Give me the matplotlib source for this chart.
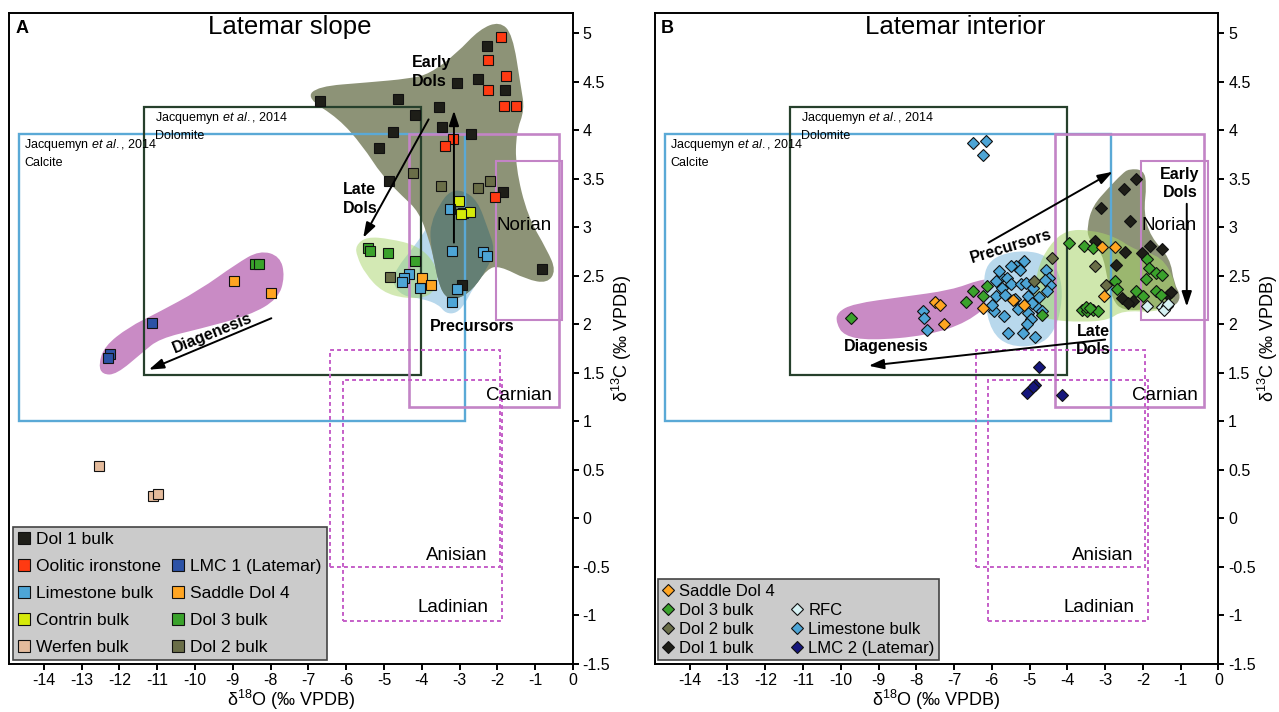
import numpy as np
import matplotlib
matplotlib.use("Agg")
import matplotlib.pyplot as plt
from matplotlib.path import Path
from matplotlib.patches import PathPatch, Rectangle
from matplotlib.lines import Line2D

plt.rcParams['font.family'] = ['Liberation Sans', 'DejaVu Sans']
plt.rcParams['mathtext.fontset'] = 'custom'
plt.rcParams['mathtext.rm'] = 'Liberation Sans'
plt.rcParams['mathtext.it'] = 'Liberation Sans:italic'
plt.rcParams['mathtext.bf'] = 'Liberation Sans:bold'
plt.rcParams['mathtext.default'] = 'regular'
plt.rcParams['axes.unicode_minus'] = False

# ---------------- data: panel A (Latemar slope) ----------------
slope_dol1 = [(-6.70, 4.30), (-4.62, 4.32), (-4.18, 4.16), (-4.75, 3.98), (-5.13, 3.81),
              (-4.88, 3.47), (-2.27, 4.87), (-3.07, 4.49), (-2.52, 4.53), (-1.80, 4.41),
              (-3.55, 4.24), (-3.47, 4.03), (-2.70, 3.96), (-1.86, 3.36), (-0.81, 2.57),
              (-2.93, 2.40)]
slope_ooid = [(-1.90, 4.96), (-2.25, 4.72), (-1.77, 4.56), (-2.24, 4.41), (-1.82, 4.25),
              (-1.52, 4.25), (-3.18, 3.91), (-3.38, 3.84), (-2.06, 3.31)]
slope_limestone = [(-3.26, 3.19), (-3.20, 2.75), (-2.39, 2.74), (-2.28, 2.70), (-3.07, 2.36),
                   (-3.20, 2.23), (-4.33, 2.52), (-4.48, 2.47), (-4.52, 2.43), (-4.06, 2.37)]
slope_contrin = [(-3.01, 3.27), (-2.90, 3.14), (-2.73, 3.16), (-2.95, 3.13)]
slope_werfen = [(-12.54, 0.54), (-11.10, 0.23), (-10.99, 0.25)]
slope_lmc1 = [(-11.15, 2.01), (-12.26, 1.69), (-12.29, 1.65)]
slope_saddle = [(-8.98, 2.44), (-8.00, 2.32), (-4.00, 2.47), (-3.75, 2.40)]
slope_dol3 = [(-8.42, 2.62), (-8.30, 2.62), (-5.41, 2.78), (-5.37, 2.75), (-4.89, 2.73), (-4.19, 2.65)]
slope_dol2 = [(-4.22, 3.56), (-3.50, 3.42), (-2.52, 3.40), (-2.19, 3.47), (-4.85, 2.49)]

# field outlines, panel A
slope_dol_field = [(-7.05, 4.33), (-6.75, 4.45), (-5.46, 4.49), (-4.32, 4.53), (-3.79, 4.58),
                   (-3.08, 4.79), (-2.47, 5.04), (-1.94, 5.12), (-1.60, 4.99), (-1.38, 4.45),
                   (-1.28, 4.21), (-1.50, 3.98), (-1.52, 3.62), (-1.20, 3.11), (-0.68, 2.76),
                   (-0.45, 2.55), (-0.68, 2.42), (-1.23, 2.46), (-1.94, 2.60), (-2.27, 2.57),
                   (-2.66, 2.35), (-3.08, 2.25), (-3.40, 2.28), (-3.58, 2.46), (-3.66, 2.63),
                   (-3.80, 2.86), (-4.08, 3.16), (-4.52, 3.32), (-5.05, 3.53), (-5.57, 3.84),
                   (-6.20, 4.12)]
slope_overlap = [(-3.76, 3.04), (-3.52, 3.24), (-3.26, 3.37), (-2.91, 3.38), (-2.52, 3.27),
                 (-2.25, 2.98), (-2.06, 2.77), (-2.27, 2.57), (-2.66, 2.35), (-3.08, 2.25),
                 (-3.40, 2.28), (-3.58, 2.46), (-3.66, 2.63), (-3.78, 2.86)]
slope_blue_field = [(-3.82, 3.02), (-3.52, 3.24), (-3.26, 3.37), (-2.91, 3.38), (-2.52, 3.27),
                    (-2.25, 2.98), (-2.06, 2.77), (-2.27, 2.57), (-2.66, 2.36), (-2.84, 2.22),
                    (-3.08, 2.11), (-3.37, 2.11), (-3.55, 2.20), (-3.97, 2.26), (-4.52, 2.29),
                    (-4.78, 2.42), (-4.70, 2.56), (-4.16, 2.82)]
slope_green_field = [(-5.75, 2.81), (-5.46, 2.90), (-4.85, 2.88), (-4.12, 2.81), (-3.66, 2.64),
                     (-3.56, 2.45), (-3.77, 2.28), (-4.41, 2.26), (-5.05, 2.33), (-5.50, 2.52),
                     (-5.72, 2.70)]
slope_diag_field = [(-12.55, 1.58), (-12.40, 1.77), (-11.75, 1.97), (-11.02, 2.11), (-9.88, 2.35),
                    (-8.91, 2.62), (-8.29, 2.76), (-7.75, 2.70), (-7.62, 2.49), (-7.80, 2.26),
                    (-8.55, 2.09), (-9.88, 1.95), (-10.94, 1.85), (-11.38, 1.71), (-12.08, 1.48),
                    (-12.45, 1.48)]

# ---------------- data: panel B (Latemar interior) ----------------
int_dol1 = [(-2.18, 3.50), (-2.49, 3.39), (-3.12, 3.20), (-2.33, 3.06), (-3.28, 2.86),
            (-2.47, 2.74), (-1.80, 2.80), (-1.50, 2.77), (-2.03, 2.73), (-2.71, 2.61),
            (-2.56, 2.27), (-2.26, 2.24), (-2.40, 2.22), (-1.33, 2.30), (-1.25, 2.33)]
int_dol2 = [(-4.40, 2.68), (-4.88, 2.44), (-3.27, 2.60), (-2.98, 2.40)]
int_saddle = [(-3.08, 2.79), (-2.74, 2.79), (-3.04, 2.29), (-5.44, 2.25), (-5.14, 2.20),
              (-6.24, 2.17), (-7.50, 2.23), (-7.38, 2.20), (-7.28, 2.00)]
int_dol3 = [(-9.73, 2.06), (-6.69, 2.23), (-6.50, 2.34), (-6.24, 2.29), (-6.12, 2.39),
            (-4.66, 2.09), (-3.96, 2.84), (-3.56, 2.80), (-3.33, 2.78), (-1.88, 2.67),
            (-1.83, 2.58), (-1.65, 2.53), (-1.49, 2.51), (-1.92, 2.46), (-2.73, 2.44),
            (-2.68, 2.36), (-2.19, 2.34), (-2.01, 2.29), (-1.65, 2.34), (-1.52, 2.30),
            (-3.62, 2.15), (-3.49, 2.13), (-3.31, 2.15), (-3.19, 2.13), (-3.52, 2.18),
            (-3.40, 2.17)]
int_limestone = [(-6.50, 3.87), (-6.15, 3.89), (-6.24, 3.74), (-7.83, 2.13), (-7.80, 2.06),
                 (-7.72, 1.94), (-5.15, 2.65), (-5.35, 2.60), (-5.25, 2.56), (-5.50, 2.60),
                 (-5.77, 2.49), (-5.90, 2.44), (-5.60, 2.48), (-5.50, 2.41), (-5.72, 2.37),
                 (-5.22, 2.41), (-5.10, 2.42), (-4.92, 2.37), (-4.56, 2.56), (-4.50, 2.48),
                 (-4.47, 2.40), (-4.53, 2.34), (-5.90, 2.29), (-5.65, 2.30), (-5.40, 2.26),
                 (-5.05, 2.29), (-4.80, 2.18), (-4.95, 2.22), (-5.94, 2.13), (-5.68, 2.08),
                 (-5.05, 2.11), (-4.67, 2.13), (-4.96, 2.05), (-5.06, 2.00), (-5.17, 1.91),
                 (-4.85, 1.87), (-5.57, 1.91), (-6.00, 2.20), (-5.30, 2.16), (-4.60, 2.45),
                 (-5.80, 2.55), (-4.75, 2.28)]
int_rfc = [(-1.88, 2.19), (-1.49, 2.18), (-1.37, 2.19), (-1.43, 2.15), (-1.33, 2.21)]
int_lmc2 = [(-4.74, 1.56), (-4.85, 1.37), (-4.90, 1.35), (-5.08, 1.29), (-4.14, 1.27)]

int_pink_field = [(-10.10, 2.12), (-9.67, 2.21), (-8.37, 2.28), (-7.07, 2.35), (-6.31, 2.46),
                  (-5.95, 2.46), (-5.95, 2.25), (-6.63, 2.02), (-7.72, 1.88), (-9.24, 1.83),
                  (-9.92, 1.88), (-10.12, 2.01)]
int_blue_field = [(-6.12, 2.62), (-5.77, 2.72), (-5.12, 2.76), (-4.55, 2.71), (-4.20, 2.53),
                  (-4.12, 2.25), (-4.33, 1.92), (-4.79, 1.77), (-5.55, 1.77), (-6.02, 1.92),
                  (-6.20, 2.25), (-6.22, 2.46)]
int_green_field = [(-4.82, 2.56), (-4.47, 2.82), (-4.03, 2.97), (-3.38, 2.97), (-2.73, 2.90),
                   (-2.20, 2.76), (-1.50, 2.70), (-1.12, 2.42), (-1.18, 2.22), (-1.65, 2.12),
                   (-2.55, 2.14), (-2.91, 2.04), (-3.62, 2.02), (-4.45, 2.04), (-4.92, 2.12)]
int_olive_field = [(-2.55, 3.55), (-2.37, 3.60), (-1.98, 3.59), (-1.90, 3.44), (-1.98, 3.15),
                   (-1.80, 2.90), (-1.28, 2.68), (-1.18, 2.42), (-0.98, 2.28), (-1.18, 2.17),
                   (-1.83, 2.15), (-2.55, 2.14), (-2.80, 2.25), (-2.94, 2.46), (-3.07, 2.73),
                   (-3.44, 2.87), (-3.48, 3.01), (-3.33, 3.22), (-2.92, 3.40)]

# reference boxes (x0, x1, y0, y1)
box_dolomite = (-11.35, -4.01, 1.48, 4.24)
box_calcite = (-14.65, -2.85, 1.0, 3.96)
box_carnian = (-4.33, -0.38, 1.14, 3.96)
box_norian = (-2.05, -0.29, 2.04, 3.68)
box_anisian = (-6.42, -1.94, -0.50, 1.73)
box_ladinian = (-6.09, -1.87, -1.06, 1.42)

C_DOL1 = '#1e1e18'
C_OOID = '#ff3a12'
C_LIME = '#4da5d6'
C_CONTRIN = '#d6ea0a'
C_WERFEN = '#e4bb9c'
C_LMC1 = '#2c52a6'
C_SADDLE = '#ffa522'
C_DOL3 = '#3aa22b'
C_DOL2 = '#6a6e48'
C_RFC = '#d6f1f3'
C_LMC2 = '#15167c'
C_PINKBOX = '#c384c6'
C_DASH = '#c55ec8'


def smooth_field(ax, pts, color, alpha=1.0, z=1):
    # closed quadratic spline through midpoints of the outline
    pts = np.asarray(pts, dtype=float)
    mids = (pts + np.roll(pts, -1, axis=0)) / 2
    verts = [mids[-1]]
    codes = [Path.MOVETO]
    for p, m in zip(pts, mids):
        verts += [p, m]
        codes += [Path.CURVE3, Path.CURVE3]
    verts.append(mids[-1])
    codes.append(Path.CLOSEPOLY)
    ax.add_patch(PathPatch(Path(verts, codes), facecolor=color, edgecolor='none',
                           alpha=alpha, zorder=z))


def draw_box(ax, box, color, lw=1.6, ls='-'):
    x0, x1, y0, y1 = box
    ax.add_patch(Rectangle((x0, y0), x1 - x0, y1 - y0, fill=False, edgecolor=color,
                           lw=lw, ls=ls, zorder=3))


def draw_boxes(ax):
    draw_box(ax, box_calcite, '#5aa9d6', 1.7)
    draw_box(ax, box_dolomite, '#26402c', 1.6)
    draw_box(ax, box_carnian, C_PINKBOX, 1.9)
    draw_box(ax, box_norian, C_PINKBOX, 1.5)
    draw_box(ax, box_anisian, C_DASH, 1.4, (0, (2, 1.6)))
    draw_box(ax, box_ladinian, C_DASH, 1.4, (0, (2, 1.6)))
    ax.text(-11.05, 4.21, 'Jacquemyn $\\mathit{et\\ al.}$, 2014\nDolomite', fontsize=9,
            va='top', ha='left', linespacing=1.45, zorder=4)
    ax.text(-14.52, 3.93, 'Jacquemyn $\\mathit{et\\ al.}$, 2014\nCalcite', fontsize=9,
            va='top', ha='left', linespacing=1.45, zorder=4)
    ax.text(-1.30, 3.02, 'Norian', fontsize=13.5, ha='center', va='center', zorder=4)
    ax.text(-1.43, 1.26, 'Carnian', fontsize=13.5, ha='center', va='center', zorder=4)
    ax.text(-3.07, -0.39, 'Anisian', fontsize=13.5, ha='center', va='center', zorder=4)
    ax.text(-3.17, -0.92, 'Ladinian', fontsize=13.5, ha='center', va='center', zorder=4)


def scatter(ax, pts, color, marker, ms):
    pts = np.asarray(pts)
    ax.plot(pts[:, 0], pts[:, 1], ls='none', marker=marker, ms=ms, mfc=color,
            mec='#111111', mew=0.8, zorder=5)


def arrow(ax, start, end):
    ax.annotate('', xy=end, xytext=start, zorder=6,
                arrowprops=dict(arrowstyle='-|>,head_length=0.9,head_width=0.3',
                                color='black', lw=1.4, shrinkA=0, shrinkB=0))


def style_axes(ax):
    ax.set_xlim(-14.92, 0)
    ax.set_ylim(-1.5, 5.21)
    ax.set_xticks(np.arange(-14, 1, 1))
    ax.set_xticklabels([f'{v:g}' for v in np.arange(-14, 1, 1)])
    yt = np.arange(-1.5, 5.01, 0.5)
    ax.set_yticks(yt)
    ax.set_yticklabels([f'{v:g}' for v in yt])
    ax.yaxis.tick_right()
    ax.yaxis.set_label_position('right')
    ax.tick_params(direction='out', length=4, width=1.4, labelsize=11.5, pad=3)
    for s in ax.spines.values():
        s.set_linewidth(1.4)
    ax.set_xlabel('δ$^{18}$O (‰ VPDB)', fontsize=13, labelpad=0)
    ax.set_ylabel('δ$^{13}$C (‰ VPDB)', fontsize=13, labelpad=0)


fig = plt.figure(figsize=(12.79, 7.12), dpi=100)
ax_a = fig.add_axes([0.00704, 0.0680, 0.44097, 0.9142])
ax_b = fig.add_axes([0.5121, 0.0680, 0.44058, 0.9142])

# ---------------- panel A ----------------
ax = ax_a
smooth_field(ax, slope_diag_field, '#c98bc5', 1.0, 1)
smooth_field(ax, slope_blue_field, '#b8d8ec', 1.0, 1)
smooth_field(ax, slope_green_field, '#a8d56a', 0.5, 1.2)
smooth_field(ax, slope_dol_field, '#8d9377', 1.0, 1.5)
smooth_field(ax, slope_overlap, '#647f74', 1.0, 1.6)
draw_boxes(ax)
scatter(ax, slope_dol1, C_DOL1, 's', 7)
scatter(ax, slope_ooid, C_OOID, 's', 7)
scatter(ax, slope_dol2, C_DOL2, 's', 7)
scatter(ax, slope_contrin, C_CONTRIN, 's', 7)
scatter(ax, slope_limestone, C_LIME, 's', 7)
scatter(ax, slope_dol3, C_DOL3, 's', 7)
scatter(ax, slope_saddle, C_SADDLE, 's', 7)
scatter(ax, slope_lmc1, C_LMC1, 's', 7)
scatter(ax, slope_werfen, C_WERFEN, 's', 7)
arrow(ax, (-3.15, 2.84), (-3.15, 4.20))
arrow(ax, (-3.82, 4.11), (-5.55, 2.89))
arrow(ax, (-7.98, 2.06), (-11.22, 1.53))
ax.text(-4.25, 4.60, 'Early\nDols', fontsize=11.5, fontweight='bold', ha='left', va='center',
        linespacing=1.3, zorder=7)
ax.text(-6.10, 3.29, 'Late\nDols', fontsize=11.5, fontweight='bold', ha='left', va='center',
        linespacing=1.3, zorder=7)
ax.text(-9.53, 1.91, 'Diagenesis', fontsize=11.5, fontweight='bold', ha='center', va='center',
        rotation=22, zorder=7)
ax.text(-2.68, 1.98, 'Precursors', fontsize=11.5, fontweight='bold', ha='center', va='center',
        zorder=7)
ax.text(-7.5, 5.06, 'Latemar slope', fontsize=18.5, ha='center', va='center')
ax.text(-14.76, 5.05, 'A', fontsize=13, fontweight='bold', ha='left', va='center')
style_axes(ax)


def handle(color, marker, ms):
    return Line2D([], [], ls='none', marker=marker, ms=ms, mfc=color, mec='#111111', mew=0.8)


blank = Line2D([], [], ls='none')
hA = [handle(C_DOL1, 's', 8), handle(C_OOID, 's', 8), handle(C_LIME, 's', 8),
      handle(C_CONTRIN, 's', 8), handle(C_WERFEN, 's', 8), blank,
      handle(C_LMC1, 's', 8), handle(C_SADDLE, 's', 8), handle(C_DOL3, 's', 8),
      handle(C_DOL2, 's', 8)]
lA = ['Dol 1 bulk', 'Oolitic ironstone', 'Limestone bulk', 'Contrin bulk', 'Werfen bulk',
      '', 'LMC 1 (Latemar)', 'Saddle Dol 4', 'Dol 3 bulk', 'Dol 2 bulk']
legA = ax.legend(hA, lA, ncol=2, loc='lower left', bbox_to_anchor=(0.007, 0.005),
                 borderaxespad=0, fontsize=12.5, frameon=True, fancybox=False,
                 handlelength=0.7, handletextpad=0.35, columnspacing=0.6,
                 labelspacing=0.68, borderpad=0.3)
legA.get_frame().set_facecolor('#cbcbcb')
legA.get_frame().set_edgecolor('#444444')
legA.get_frame().set_linewidth(1.2)
legA.get_frame().set_alpha(1)
legA.set_zorder(10)

# ---------------- panel B ----------------
ax = ax_b
smooth_field(ax, int_pink_field, '#c98bc5', 1.0, 1)
smooth_field(ax, int_blue_field, '#b8d8ec', 1.0, 1.1)
smooth_field(ax, int_olive_field, '#8d9377', 1.0, 1.2)
smooth_field(ax, int_green_field, '#a8d56a', 0.55, 1.3)
draw_boxes(ax)
scatter(ax, int_limestone, C_LIME, 'D', 6.3)
scatter(ax, int_dol2, C_DOL2, 'D', 6.3)
scatter(ax, int_dol1, C_DOL1, 'D', 6.3)
scatter(ax, int_dol3, C_DOL3, 'D', 6.3)
scatter(ax, int_saddle, C_SADDLE, 'D', 6.3)
scatter(ax, int_rfc, C_RFC, 'D', 6.3)
scatter(ax, int_lmc2, C_LMC2, 'D', 6.3)
arrow(ax, (-6.09, 2.84), (-2.80, 3.57))
arrow(ax, (-0.84, 3.24), (-0.84, 2.18))
arrow(ax, (-3.00, 1.84), (-9.26, 1.57))
ax.text(-1.02, 3.45, 'Early\nDols', fontsize=11.5, fontweight='bold', ha='center', va='center',
        linespacing=1.3, zorder=7)
ax.text(-3.32, 1.83, 'Late\nDols', fontsize=11.5, fontweight='bold', ha='center', va='center',
        linespacing=1.3, zorder=7)
ax.text(-8.80, 1.77, 'Diagenesis', fontsize=11.5, fontweight='bold', ha='center', va='center',
        zorder=7)
ax.text(-5.50, 2.80, 'Precursors', fontsize=11.5, fontweight='bold', ha='center', va='center',
        rotation=17, zorder=7)
ax.text(-6.97, 5.06, 'Latemar interior', fontsize=18.5, ha='center', va='center')
ax.text(-14.76, 5.05, 'B', fontsize=13, fontweight='bold', ha='left', va='center')
style_axes(ax)

hB = [handle(C_SADDLE, 'D', 6.3), handle(C_DOL3, 'D', 6.3), handle(C_DOL2, 'D', 6.3),
      handle(C_DOL1, 'D', 6.3), blank, handle(C_RFC, 'D', 6.3), handle(C_LIME, 'D', 6.3),
      handle(C_LMC2, 'D', 6.3)]
lB = ['Saddle Dol 4', 'Dol 3 bulk', 'Dol 2 bulk', 'Dol 1 bulk', '', 'RFC', 'Limestone bulk',
      'LMC 2 (Latemar)']
legB = ax.legend(hB, lB, ncol=2, loc='lower left', bbox_to_anchor=(0.006, 0.005),
                 borderaxespad=0, fontsize=12, frameon=True, fancybox=False,
                 handlelength=0.7, handletextpad=0.3, columnspacing=1.0,
                 labelspacing=0.25, borderpad=0.25)
legB.get_frame().set_facecolor('#cbcbcb')
legB.get_frame().set_edgecolor('#444444')
legB.get_frame().set_linewidth(1.2)
legB.get_frame().set_alpha(1)
legB.set_zorder(10)

fig.savefig('out.png', dpi=100)
